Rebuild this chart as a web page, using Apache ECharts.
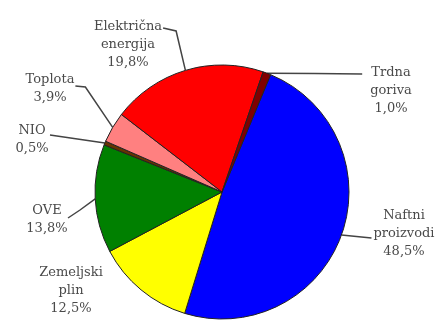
<!DOCTYPE html>
<html>
<head>
<meta charset="utf-8">
<script src="https://cdn.jsdelivr.net/npm/echarts@6/dist/echarts.min.js"></script>
<style>
  html, body { margin: 0; padding: 0; background: #fff; }
  #chart { width: 438px; height: 320px; }
</style>
</head>
<body>
<div id="chart"></div>
<script>
// podatki (deleži rabe energije)
const names = ['Naftni\nproizvodi', 'Zemeljski\nplin', 'OVE', 'NIO', 'Toplota', 'Električna\nenergija', 'Trdna\ngoriva'];
const values = [48.5, 12.5, 13.8, 0.5, 3.9, 19.8, 1.0];
const colors = ['#0000ff', '#ffff00', '#008000', '#663300', '#ff8080', '#ff0000', '#800000'];

// središča oznak (samo postavitev besedila)
const labelCenters = [[404, 234], [71, 291], [47, 220], [32, 140], [50, 89], [128, 45], [391, 91]];

const chart = echarts.init(document.getElementById('chart'));

const fmt = v => v.toFixed(1).replace('.', ',') + '%';

const option = {
  animation: false,
  series: [{
    type: 'pie',
    center: [222, 192],
    radius: 127,
    startAngle: 67.5,
    clockwise: true,
    data: names.map((n, i) => ({
      name: n,
      value: values[i],
      itemStyle: { color: colors[i] },
      labelLine: { show: i !== 1 }
    })),
    itemStyle: { borderColor: '#222', borderWidth: 1 },
    label: {
      show: true,
      position: 'outside',
      formatter: p => p.name + '\n' + fmt(p.value),
      fontFamily: 'DejaVu Serif',
      fontSize: 13,
      lineHeight: 18,
      color: '#4a4a4a',
      align: 'center'
    },
    labelLine: {
      show: true,
      length: 10,
      length2: 10,
      lineStyle: { color: '#444', width: 1.5 }
    },
    labelLayout: function (params) {
      const i = params.dataIndex;
      const c = labelCenters[i];
      const w = params.labelRect.width;
      const h = params.labelRect.height;
      const top = c[1] - h / 2;
      const a = params.labelLinePoints ? params.labelLinePoints[0] : null;
      let pts;
      if (a) {
        if (i === 5) {
          // Električna energija
          const e = [c[0] + w / 2 + 1, top + 10];
          pts = [a, [e[0] + 13, e[1] + 3], e];
        } else if (i === 4) {
          // Toplota
          const e = [c[0] + w / 2 + 1, top + 15];
          pts = [a, [e[0] + 10, e[1] + 1], e];
        } else if (i === 3) {
          // NIO
          const e = [c[0] + 18, top + 13];
          pts = [a, [(a[0] + e[0]) / 2, (a[1] + e[1]) / 2], e];
        } else if (i === 2) {
          // OVE
          const e = [c[0] + 21, top + 16];
          pts = [a, [e[0] + 12, e[1] - 8], e];
        } else if (i === 6) {
          // Trdna goriva
          const e = [c[0] - w / 2 - 8, top + 10];
          pts = [a, [(a[0] + e[0]) / 2, (a[1] + e[1]) / 2], e];
        } else if (i === 0) {
          // Naftni proizvodi
          const e = [c[0] - w / 2 - 2, c[1] + 4];
          pts = [a, [(a[0] + e[0]) / 2, (a[1] + e[1]) / 2], e];
        }
      }
      const res = {
        x: c[0],
        y: c[1],
        align: 'center',
        verticalAlign: 'middle'
      };
      if (pts) res.labelLinePoints = pts;
      return res;
    }
  }]
};

chart.setOption(option);
</script>
</body>
</html>
